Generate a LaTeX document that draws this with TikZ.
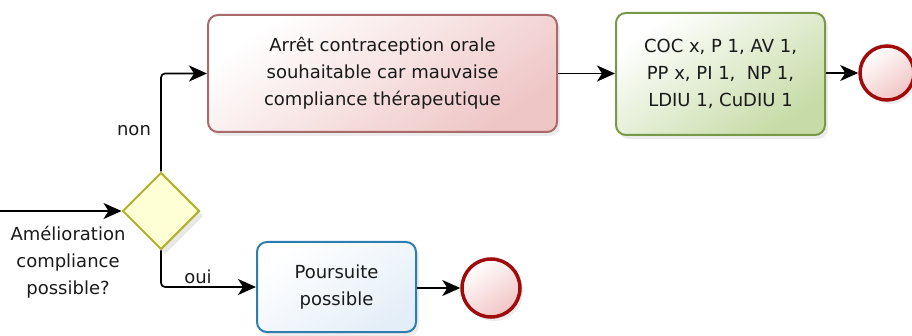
\documentclass[tikz,border=0pt]{standalone}
\usepackage{fontspec}
\setmainfont{DejaVu Sans}
\usetikzlibrary{shapes.geometric,arrows.meta,shadows}
\definecolor{redfill}{HTML}{EFC6C6}
\definecolor{redline}{HTML}{A86A6A}
\definecolor{greenfill}{HTML}{C6DBA6}
\definecolor{greenline}{HTML}{789A48}
\definecolor{bluefill}{HTML}{E4EEF8}
\definecolor{blueline}{HTML}{2E7DB0}
\definecolor{diafill}{HTML}{FFFFD6}
\definecolor{dialine}{HTML}{B2B230}
\definecolor{endline}{HTML}{A00C0C}
\definecolor{endfill}{HTML}{F2C4C4}
\definecolor{txt}{HTML}{1A1A1A}
\begin{document}
\begin{tikzpicture}[x=1pt,y=-1pt,
  every node/.style={font=\fontsize{18}{27}\selectfont, text=txt},
  task/.style={rectangle, rounded corners=10pt, align=center, line width=2pt,
     drop shadow={opacity=0.15, shadow xshift=3pt, shadow yshift=-4pt}},
  redtask/.style={task, draw=redline, top color=white, bottom color=redfill, shading angle=35},
  greentask/.style={task, draw=greenline, top color=white, bottom color=greenfill, shading angle=35},
  bluetask/.style={task, draw=blueline, top color=white, bottom color=bluefill, shading angle=35},
  gate/.style={diamond, aspect=1, inner sep=0pt, draw=dialine, fill=diafill, line width=2pt,
     drop shadow={opacity=0.18, shadow xshift=4pt, shadow yshift=-5pt}},
  endev/.style={circle, inner sep=0pt, draw=endline, line width=3.5pt, top color=white, bottom color=endfill, shading angle=35,
     drop shadow={opacity=0.15, shadow xshift=3pt, shadow yshift=-4pt}},
  flow/.style={line width=1.7pt, -{Stealth[length=18pt,width=16pt,inset=5pt]}},
  lbl/.style={inner sep=0pt}
]
\useasboundingbox (0,0) rectangle (912,336);

\node[gate, minimum width=77pt, minimum height=77pt] (dia) at (161,211) {};
\node[redtask, minimum width=349pt, minimum height=117pt] (red) at (382.5,73.5)
  {Arrêt contraception orale\\souhaitable car mauvaise\\compliance thérapeutique};
\node[greentask, minimum width=209pt, minimum height=122pt] (green) at (720.5,74)
  {COC x, P 1, AV 1,\\PP x, PI 1,~ NP 1,\\LDIU 1, CuDIU 1};
\node[bluetask, minimum width=159pt, minimum height=90pt] (blue) at (336.5,287)
  {Poursuite\\possible};
\node[endev, minimum size=54pt] (end1) at (887,73) {};
\node[endev, minimum size=58pt] (end2) at (491,288) {};

\coordinate (start) at (0,211);
\draw[flow] (start) -- (dia.west);
\draw[flow, rounded corners=4pt] (dia.north) |- (red.west);
\draw[flow, rounded corners=4pt] (dia.south) |- (blue.west);
\draw[flow] (red.east) -- (red.east -| green.west);
\draw[flow] (green.east |- end1.west) -- (end1.west);
\draw[flow] (blue.east |- end2.west) -- (end2.west);

\node[lbl] (nonlbl) at (134,131) {non};
\node[lbl] (ouilbl) at (198,277) {oui};
\node[lbl, align=center] (dialbl) at (68,262) {Amélioration\\compliance\\possible?};
\end{tikzpicture}
\end{document}
